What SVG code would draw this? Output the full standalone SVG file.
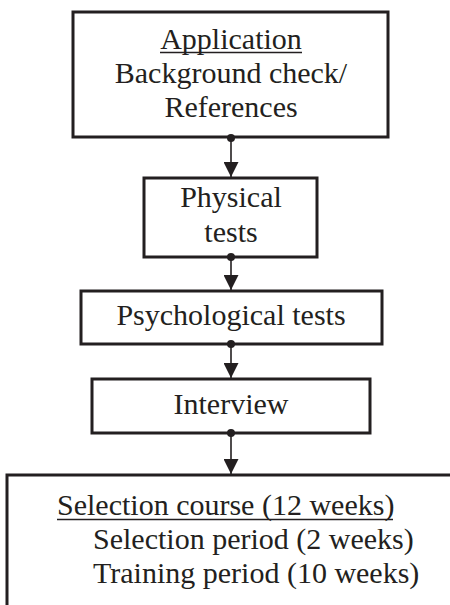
<svg xmlns="http://www.w3.org/2000/svg" width="450" height="605" viewBox="0 0 450 605">
<style>
.box{fill:#fff;stroke:#231f20;stroke-width:3}
.t{font-family:"Liberation Serif","Times New Roman",serif;font-size:30px;fill:#231f20}
.c{text-anchor:middle}
.ul{stroke:#231f20;stroke-width:1.5}
.con line{stroke:#231f20;stroke-width:1.6}
.con circle{fill:#231f20}
</style>
<defs>
<marker id="arr" markerWidth="15" markerHeight="15" viewBox="0 0 15 15" refX="15" refY="7.5" orient="auto" markerUnits="userSpaceOnUse">
<path d="M0,0 L15,7.5 L0,15 Z" fill="#231f20"/>
</marker>
</defs>
<rect width="450" height="605" fill="#fff"/>
<g id="application">
<rect class="box" x="73" y="12" width="315" height="125"/>
<text class="t c" x="231" y="49">Application</text>
<line class="ul" x1="160" y1="52.5" x2="302" y2="52.5"/>
<text class="t c" x="231" y="83">Background check/</text>
<text class="t c" x="231" y="117">References</text>
</g>
<g id="physical">
<rect class="box" x="144" y="178" width="173" height="79"/>
<text class="t c" x="231" y="207">Physical</text>
<text class="t c" x="231" y="242">tests</text>
</g>
<g id="psychological">
<rect class="box" x="81" y="291" width="301" height="53"/>
<text class="t c" x="231" y="325">Psychological tests</text>
</g>
<g id="interview">
<rect class="box" x="92" y="379" width="278" height="54"/>
<text class="t c" x="231" y="414">Interview</text>
</g>
<g id="selection">
<rect class="box" x="7" y="475" width="470" height="160"/>
<text class="t" x="57" y="515">Selection course (12 weeks)</text>
<line class="ul" x1="57" y1="519.5" x2="393" y2="519.5"/>
<text class="t" x="93" y="549">Selection period (2 weeks)</text>
<text class="t" x="93" y="583">Training period (10 weeks)</text>
</g>
<g id="connectors" class="con">
<line x1="231" y1="138" x2="231" y2="177" marker-end="url(#arr)"/>
<circle cx="231" cy="138" r="4"/>
<line x1="231" y1="257" x2="231" y2="290" marker-end="url(#arr)"/>
<circle cx="231" cy="257" r="4"/>
<line x1="231" y1="344" x2="231" y2="378" marker-end="url(#arr)"/>
<circle cx="231" cy="344" r="4"/>
<line x1="231" y1="433" x2="231" y2="474" marker-end="url(#arr)"/>
<circle cx="231" cy="433" r="4"/>
</g>
</svg>
